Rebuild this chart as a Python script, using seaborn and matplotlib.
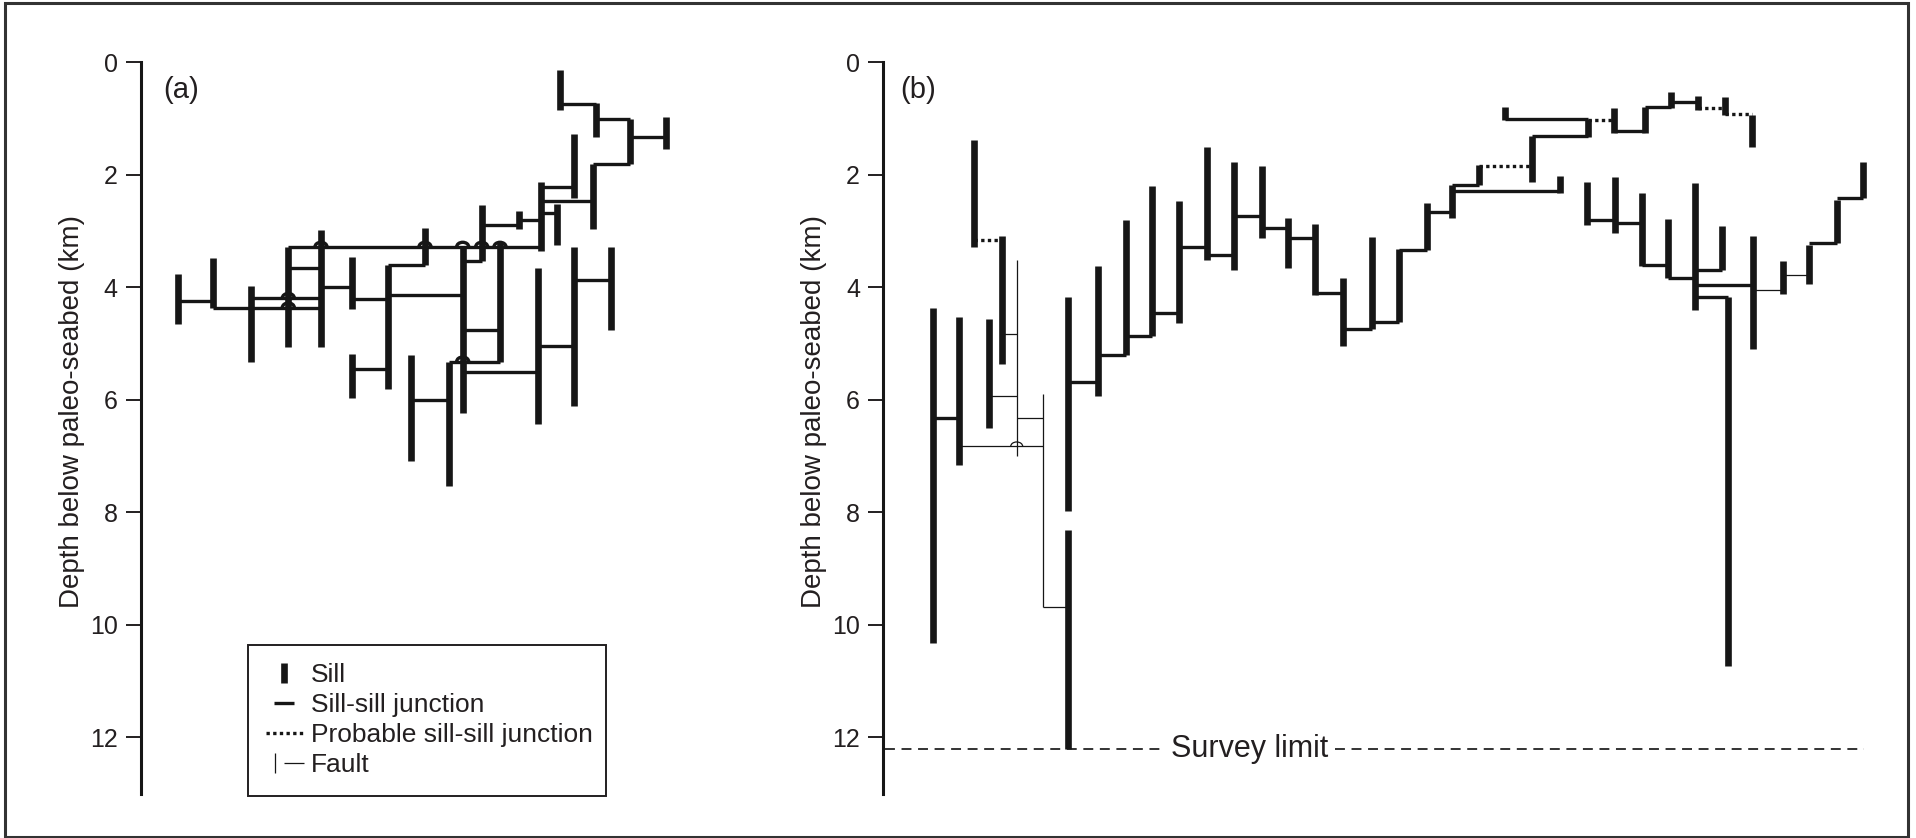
import matplotlib
matplotlib.use("Agg")
import matplotlib.pyplot as plt
import seaborn as sns
import numpy as np
from matplotlib.lines import Line2D
from matplotlib.patches import Arc, Rectangle
from matplotlib.legend_handler import HandlerTuple

# ---------------- data (x = horizontal position along section, y = depth km) -------------
y_ticks = [0, 2, 4, 6, 8, 10, 12]
y_label = "Depth below paleo-seabed (km)"

# panel (a)
a_sill_x = [666.0, 629.5, 596.0, 560.3, 592.9, 573.7, 557.3, 540.7, 519.0, 481.7, 425.0, 388.3, 351.7,
            321.0, 288.3, 250.9, 213.4, 177.7, 462.7, 500.0, 538.3, 573.7, 610.7, 351.7, 410.7, 448.7]
a_sill_top = [0.97, 1.01, 0.73, 0.14, 1.80, 1.27, 2.52, 2.12, 2.65, 2.54, 2.95, 3.60, 3.47,
              2.98, 3.28, 3.98, 3.48, 3.76, 3.28, 3.22, 3.66, 3.29, 3.29, 5.19, 5.20, 5.32]
a_sill_bottom = [1.55, 1.80, 1.33, 0.84, 2.97, 2.42, 3.25, 3.35, 2.97, 3.54, 3.60, 5.80, 4.39,
                 5.06, 5.06, 5.32, 4.37, 4.65, 6.24, 5.32, 6.43, 6.11, 4.76, 5.97, 7.08, 7.53]
a_junc_x0 = [560.3, 596.0, 629.5, 592.9, 540.7, 540.7, 540.7, 519.0, 481.7, 462.7, 288.3, 288.3, 321.0,
             351.7, 388.3, 388.3, 462.7, 448.7, 462.7, 538.3, 573.7, 177.7, 213.4, 250.9, 351.7, 410.7]
a_junc_x1 = [596.0, 629.5, 666.0, 629.5, 592.9, 573.7, 557.3, 540.7, 519.0, 481.7, 540.7, 321.0, 351.7,
             388.3, 425.0, 462.7, 500.0, 500.0, 538.3, 573.7, 610.7, 213.4, 321.0, 321.0, 388.3, 448.7]
a_junc_y = [0.74, 1.01, 1.33, 1.80, 2.46, 2.22, 2.68, 2.80, 2.89, 3.54, 3.28, 3.65, 4.00,
            4.20, 3.60, 4.14, 4.76, 5.32, 5.50, 5.05, 3.87, 4.24, 4.36, 4.19, 5.46, 6.00]
a_bump_x = [321.0, 425.0, 462.7, 481.7, 500.0, 288.3, 288.3, 462.7]
a_bump_y = [3.28, 3.28, 3.28, 3.28, 3.28, 4.19, 4.36, 5.32]

# panel (b)
b_sill_x = [974.0, 1001.7, 932.7, 959.3, 988.7, 1068.3, 1068.3, 1098.3, 1125.7, 1152.3,
            1179.3, 1207.3, 1234.3, 1261.7, 1288.3, 1315.0, 1342.7, 1371.5, 1398.6, 1427.1,
            1452.3, 1478.8, 1532.2, 1559.7, 1588.0, 1505.3, 1613.8, 1645.1, 1671.0, 1698.2,
            1725.0, 1751.9, 1587.3, 1614.8, 1641.7, 1668.2, 1694.7, 1722.3, 1727.8, 1752.6,
            1782.9, 1809.4, 1836.9, 1863.4]
b_sill_top = [1.38, 3.09, 4.36, 4.53, 4.56, 4.17, 8.31, 3.62, 2.80, 2.20,
              2.46, 1.50, 1.77, 1.84, 2.76, 2.87, 3.84, 3.11, 3.32, 2.51,
              2.18, 1.83, 1.31, 2.03, 1.01, 0.80, 0.82, 0.79, 0.52, 0.60,
              0.61, 0.94, 2.12, 2.04, 2.33, 2.79, 2.14, 2.91, 4.17, 3.09,
              3.53, 3.25, 2.44, 1.77]
b_sill_bottom = [3.28, 5.36, 10.33, 7.16, 6.51, 7.98, 12.20, 5.94, 5.20, 4.87,
                 4.63, 3.51, 3.70, 3.13, 3.66, 4.14, 5.04, 4.75, 4.61, 3.34,
                 2.77, 2.18, 2.12, 2.32, 1.32, 1.03, 1.25, 1.25, 0.82, 0.84,
                 0.94, 1.51, 2.89, 3.03, 3.62, 3.84, 4.41, 3.69, 10.73, 5.10,
                 4.12, 3.94, 3.22, 2.42]
b_junc_x0 = [932.7, 1068.3, 1098.3, 1125.7, 1152.3, 1179.3, 1207.3, 1234.3, 1261.7, 1288.3,
             1315.0, 1342.7, 1371.5, 1398.6, 1427.1, 1452.3, 1452.3, 1532.2, 1505.3, 1613.8,
             1645.1, 1671.0, 1587.3, 1614.8, 1641.7, 1668.2, 1694.7, 1694.7, 1694.7, 1809.4,
             1836.9]
b_junc_x1 = [959.3, 1098.3, 1125.7, 1152.3, 1179.3, 1207.3, 1234.3, 1261.7, 1288.3, 1315.0,
             1342.7, 1371.5, 1398.6, 1427.1, 1452.3, 1478.8, 1559.7, 1588.0, 1588.0, 1645.1,
             1671.0, 1698.2, 1614.8, 1641.7, 1668.2, 1694.7, 1722.3, 1752.6, 1727.8, 1836.9,
             1863.4]
b_junc_y = [6.33, 5.68, 5.20, 4.87, 4.45, 3.29, 3.43, 2.74, 2.95, 3.13,
            4.11, 4.75, 4.61, 3.34, 2.67, 2.18, 2.29, 1.31, 1.01, 1.23,
            0.80, 0.70, 2.80, 2.86, 3.60, 3.84, 3.69, 3.96, 4.17, 3.22,
            2.42]
b_prob_x0 = [974.0, 1478.8, 1588.0, 1698.2, 1725.0]
b_prob_x1 = [1001.7, 1532.2, 1613.8, 1725.0, 1751.9]
b_prob_y = [3.16, 1.84, 1.03, 0.82, 0.92]
b_fault_vx = [1016.7, 1042.7]
b_fault_vtop = [3.51, 5.89]
b_fault_vbottom = [7.00, 9.68]
b_fault_hx0 = [1001.7, 988.7, 1016.7, 959.3, 1042.7, 1752.6, 1782.9]
b_fault_hx1 = [1016.7, 1016.7, 1042.7, 1042.7, 1068.3, 1782.9, 1809.4]
b_fault_hy = [4.83, 5.94, 6.32, 6.83, 9.68, 4.04, 3.78]
b_bump_x = [1016.7]
b_bump_y = [6.83]

survey_depth = 12.2
survey_label = "Survey limit"
legend_labels = ["Sill", "Sill-sill junction", "Probable sill-sill junction", "Fault"]

# ---------------- style ----------------
sns.set_theme(style="ticks")
plt.rcParams['font.family'] = ['Liberation Sans', 'DejaVu Sans']
TXT = '#231f20'
INK = '#161616'
SILL_LW = 4.8
JUNC_LW = 2.4
FAULT_LW = 0.9

W, H = 1916, 838
fig = plt.figure(figsize=(W / 100, H / 100), dpi=100)
fig.patch.set_facecolor('white')

y0_px, y13_px = 62.3, 793.5
ax_bottom = (H - y13_px) / H
ax_height = (y13_px - y0_px) / H


def make_axes(x0, x1, label_x):
    ax = fig.add_axes([x0 / W, ax_bottom, (x1 - x0) / W, ax_height])
    ax.set_facecolor('none')
    ax.set_xlim(x0, x1)
    ax.set_ylim(13, 0)
    ax.set_yticks(y_ticks)
    ax.set_xticks([])
    sns.despine(ax=ax, top=True, right=True, bottom=True, left=False)
    ax.spines['left'].set_linewidth(2.2)
    ax.spines['left'].set_color(INK)
    ax.tick_params(axis='y', direction='out', length=10.8, width=1.4, pad=5.5,
                   labelsize=18, colors=TXT, left=True)
    ax.set_ylabel(y_label, fontsize=20, color=TXT)
    ax.yaxis.label.set_rotation_mode('default')
    ax.yaxis.label.set_va('center')
    ax.yaxis.label.set_ha('center')
    ax.yaxis.set_label_coords((label_x - x0) / (x1 - x0), (13 - 6.2) / 13)
    return ax


def draw_bumps(ax, xs, ys, lw):
    for x, y in zip(xs, ys):
        ax.add_patch(Arc((x, y), width=12, height=0.16, theta1=180, theta2=360,
                         lw=lw, color=INK, zorder=4))


ax_a = make_axes(140.5, 720.0, 72.0)
ax_b = make_axes(882.7, 1900.0, 814.0)

# panel (a)
ax_a.vlines(a_sill_x, a_sill_top, a_sill_bottom, colors=INK, lw=SILL_LW, capstyle='butt', zorder=3)
ax_a.hlines(a_junc_y, a_junc_x0, a_junc_x1, colors=INK, lw=JUNC_LW, capstyle='butt', zorder=2)
draw_bumps(ax_a, a_bump_x, a_bump_y, JUNC_LW)
ax_a.text(163, 0.49, "(a)", fontsize=21, color=TXT, ha='left', va='center')

# panel (b)
ax_b.vlines(b_sill_x, b_sill_top, b_sill_bottom, colors=INK, lw=SILL_LW, capstyle='butt', zorder=3)
ax_b.hlines(b_junc_y, b_junc_x0, b_junc_x1, colors=INK, lw=JUNC_LW, capstyle='butt', zorder=2)
ax_b.hlines(b_prob_y, b_prob_x0, b_prob_x1, colors=INK, lw=JUNC_LW, linestyles=(0, (1, 1)),
            capstyle='butt', zorder=2)
ax_b.vlines(b_fault_vx, b_fault_vtop, b_fault_vbottom, colors=INK, lw=FAULT_LW, zorder=2)
ax_b.hlines(b_fault_hy, b_fault_hx0, b_fault_hx1, colors=INK, lw=FAULT_LW, zorder=2)
draw_bumps(ax_b, b_bump_x, b_bump_y, FAULT_LW)
ax_b.text(900, 0.49, "(b)", fontsize=21, color=TXT, ha='left', va='center')

# survey limit
ax_b.hlines([survey_depth, survey_depth], [885, 1335], [1165, 1864], colors='#333333', lw=1.4,
            linestyles=(0, (5.1, 3.4)), zorder=1)
ax_b.text(1250, survey_depth, survey_label, fontsize=22, color=TXT, ha='center', va='center')

# legend
handles = [
    Line2D([], [], marker='|', markersize=14.4, mew=SILL_LW, ls='None', color=INK),
    Line2D([], [], marker='_', markersize=14.4, mew=JUNC_LW, ls='None', color=INK),
    Line2D([], [], ls=(0, (1, 1)), lw=JUNC_LW, color=INK, dash_capstyle='butt'),
    (Line2D([], [], marker='|', markersize=14.4, mew=FAULT_LW, ls='None', color=INK),
     Line2D([], [], marker='_', markersize=14.4, mew=FAULT_LW, ls='None', color=INK)),
]
leg = ax_a.legend(handles, legend_labels, loc='upper left',
                  bbox_to_anchor=(247.8 / W, 0.0, 358.5 / W, 1 - 645 / H),
                  bbox_transform=fig.transFigure, mode='expand', borderaxespad=0,
                  frameon=True, fancybox=False, edgecolor=TXT, framealpha=1,
                  fontsize=19, labelspacing=0.23, borderpad=0.69, handlelength=1.4,
                  handletextpad=0.3, numpoints=1, labelcolor=TXT,
                  handler_map={tuple: HandlerTuple(ndivide=None, pad=0)})
leg.get_frame().set_linewidth(1.4)

# outer frame
fig.add_artist(Rectangle((5 / W, 1.5 / H), (1908 - 5) / W, (H - 3 - 1.5) / H,
                         transform=fig.transFigure, fill=False, lw=2.2, edgecolor='#333333'))

fig.savefig("out.png", dpi=100, facecolor='white')
